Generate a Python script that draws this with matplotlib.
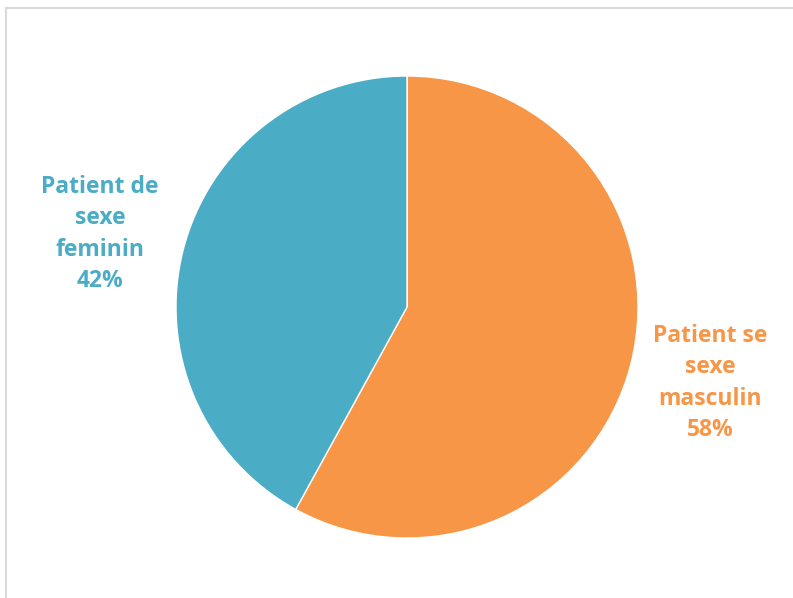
import matplotlib.pyplot as plt
from matplotlib.patches import Rectangle

# patient sex distribution
labels = ["Patient se\nsexe\nmasculin", "Patient de\nsexe\nfeminin"]
shares = [58, 42]
colors = ["#F79646", "#4BACC6"]

plt.rcParams["font.family"] = ["Open Sans", "DejaVu Sans"]

fig = plt.figure(figsize=(7.93, 5.98), dpi=100)
fig.patch.set_facecolor("white")

# chart area frame, open on the right and bottom
fig.patches.append(Rectangle((6 / 793, -0.1), 1.2, 1 - 8 / 598 + 0.1,
                             transform=fig.transFigure, fill=False,
                             edgecolor="#d9d9d9", linewidth=1.5))

ax = fig.add_axes([(407 - 231) / 793, 1 - (307 + 231) / 598, 462 / 793, 462 / 598])
ax.pie(shares, colors=colors, startangle=90, counterclock=False,
       wedgeprops=dict(edgecolor="white", linewidth=1))
ax.set_xlim(-1, 1)
ax.set_ylim(-1, 1)
ax.set_aspect("equal")
ax.axis("off")

# category labels placed beside the pie
label_pos = [(710 / 793, 1 - 383 / 598), (100 / 793, 1 - 234 / 598)]
for lab, val, col, (x, y) in zip(labels, shares, colors, label_pos):
    fig.text(x, y, f"{lab}\n{val}%", color=col, fontsize=16.5, fontweight="bold",
             ha="center", va="center", linespacing=1.42)

fig.savefig("out.png", dpi=100)
